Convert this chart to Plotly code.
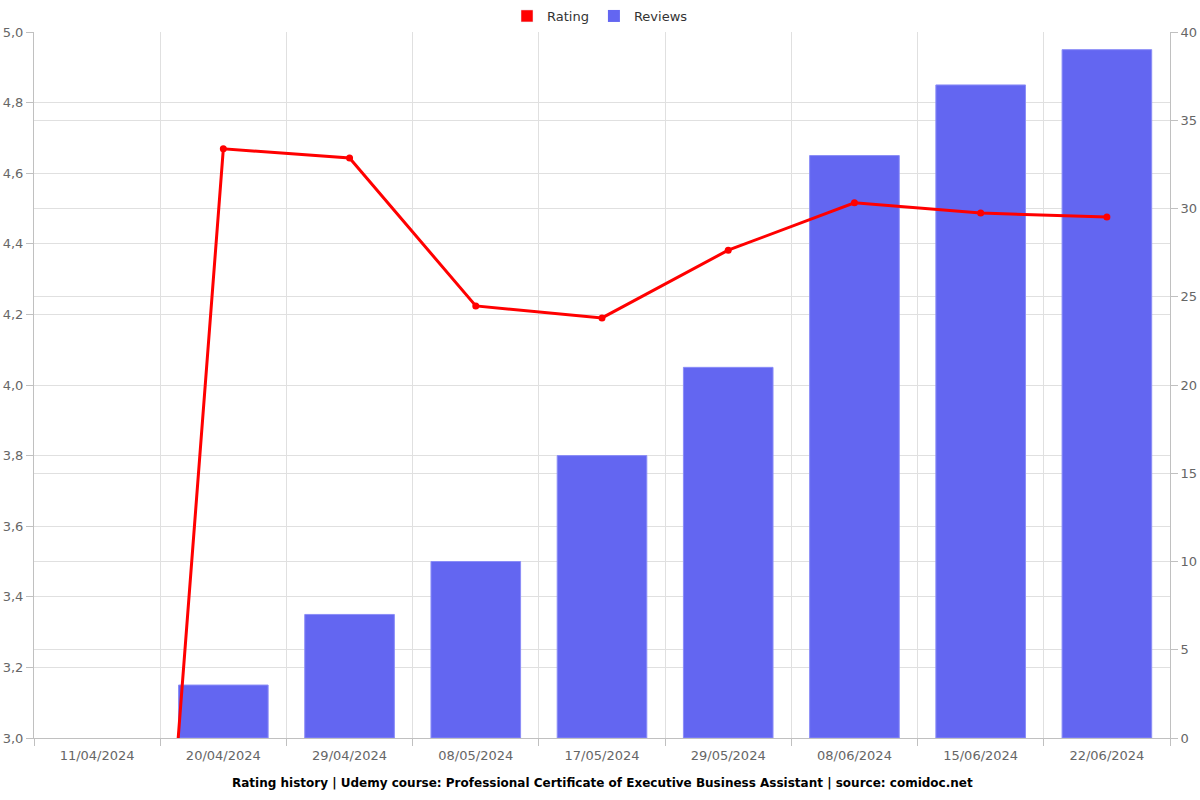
import plotly.graph_objects as go

dates = ["11/04/2024", "20/04/2024", "29/04/2024", "08/05/2024", "17/05/2024",
         "29/05/2024", "08/06/2024", "15/06/2024", "22/06/2024"]
rating = [0, 4.669, 4.643, 4.224, 4.190, 4.382, 4.516, 4.487, 4.476]
reviews = [0, 3, 7, 10, 16, 21, 33, 37, 39]

idx = list(range(len(dates)))

title_text = ("Rating history | Udemy course: Professional Certificate of Executive "
              "Business Assistant | source: comidoc.net")

BAR_COLOR = "#6366f1"
LINE_COLOR = "#ff0000"
GRID = "#e0e0e0"
AXIS = "#c0c0c0"
TICKF = dict(family="DejaVu Sans", size=13, color="#666666")

fig = go.Figure()

# legend-only swatch for Rating (rectangle like the reference)
fig.add_trace(go.Bar(x=[idx[0]], y=[None], name="Rating", marker_color=LINE_COLOR,
                     yaxis="y"))
fig.add_trace(go.Bar(x=idx, y=reviews, name="Reviews", marker_color=BAR_COLOR,
                     marker_line=dict(color="#8b8df7",
                                      width=[0 if v == 0 else 1 for v in reviews]),
                     width=0.71, yaxis="y"))
fig.add_trace(go.Scatter(x=idx, y=rating, name="Rating", mode="lines+markers",
                         line=dict(color=LINE_COLOR, width=3),
                         marker=dict(color=LINE_COLOR, size=7),
                         yaxis="y2", showlegend=False))

fig.update_layout(
    width=1200, height=800,
    paper_bgcolor="white", plot_bgcolor="white",
    margin=dict(l=34, r=30, t=32, b=62, autoexpand=False),
    separators=",.",
    barmode="overlay",
    font=dict(family="DejaVu Sans", size=13, color="#666666"),
    legend=dict(orientation="h", xref="container", yref="container",
                x=0.5, xanchor="center", y=1 - 16 / 800, yanchor="middle",
                font=dict(family="DejaVu Sans", size=13, color="#333333"),
                traceorder="normal"),
    xaxis=dict(
        range=[-0.5, 8.5], automargin=False,
        tickvals=idx, ticktext=dates, tickfont=TICKF, ticklabelstandoff=5,
        showgrid=False, ticks="", showline=True, linecolor=AXIS, linewidth=1,
        zeroline=False,
        minor=dict(tick0=-0.5, dtick=1, showgrid=True, gridcolor=GRID, gridwidth=1,
                   ticks="outside", ticklen=7, tickcolor=AXIS),
    ),
    yaxis=dict(
        side="right", range=[0, 40], dtick=5, tickfont=TICKF, automargin=False,
        showgrid=True, gridcolor=GRID, gridwidth=1,
        ticks="outside", ticklen=7, tickcolor=AXIS,
        showline=True, linecolor=AXIS, zeroline=False,
    ),
    yaxis2=dict(
        side="left", overlaying="y", range=[3, 5], dtick=0.2, tickformat=".1f",
        tickfont=TICKF, automargin=False,
        showgrid=True, gridcolor=GRID, gridwidth=1,
        ticks="outside", ticklen=7, tickcolor=AXIS,
        showline=True, linecolor=AXIS, zeroline=False,
    ),
    annotations=[dict(
        text="<b>" + title_text + "</b>", xref="paper", yref="paper",
        x=0.5, y=-45 / 706, xanchor="center", yanchor="middle", showarrow=False,
        font=dict(family="DejaVu Sans", size=12, color="#000000"),
    )],
)

fig.write_html("out.html", config={"displayModeBar": False},
               post_script="document.body.style.margin='0';document.body.style.padding='0';")
